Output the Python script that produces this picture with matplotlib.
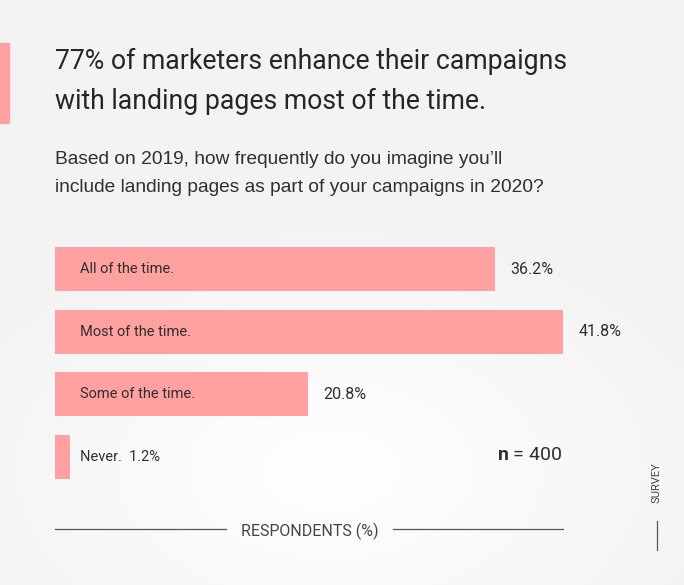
import numpy as np
import matplotlib.pyplot as plt

plt.rcParams['mathtext.fontset'] = 'custom'
plt.rcParams['mathtext.bf'] = 'Roboto:bold'
plt.rcParams['mathtext.rm'] = 'Roboto'

# survey answers, top to bottom
answers = ['All of the time.', 'Most of the time.', 'Some of the time.', 'Never.']
shares = [36.2, 41.8, 20.8, 1.2]
value_labels = ['36.2%', '41.8%', '20.8%', '1.2%']
n_resp = 400

W, H = 684, 585
BG = '#f4f4f4'
PINK = '#ffa1a1'
DARK = '#2f2f2f'

def fx(px):
    return px / W

def fy(py):
    return 1 - py / H

fig = plt.figure(figsize=(W / 100, H / 100), dpi=100, facecolor=BG)

# faint lighter glow in the background
bg = fig.add_axes([0, 0, 1, 1], zorder=-5)
yy, xx = np.mgrid[0:H, 0:W]
d = np.sqrt(((xx - 330) / 420.0) ** 2 + ((yy - 470) / 260.0) ** 2)
glow = np.clip(1 - d, 0, 1)
base = np.array([0.953, 0.953, 0.953])
img = base + (1 - base) * glow[..., None]
bg.imshow(img, extent=[0, W, H, 0], aspect='auto')
bg.axis('off')

# left accent stripe
fig.patches.append(plt.Rectangle((0, fy(123)), fx(9), fy(43) - fy(123),
                                 transform=fig.transFigure, color=PINK, zorder=2))

# headline
fig.text(fx(55), fy(61), '77% of marketers enhance their campaigns',
         fontsize=19.2, family='Roboto', color='#262626', va='center')
fig.text(fx(55), fy(101), 'with landing pages most of the time.',
         fontsize=19.2, family='Roboto', color='#262626', va='center')

# question
fig.text(fx(55), fy(160), 'Based on 2019, how frequently do you imagine you\u2019ll',
         fontsize=13.8, family='Liberation Sans', color=DARK, va='center')
fig.text(fx(55), fy(187), 'include landing pages as part of your campaigns in 2020?',
         fontsize=13.8, family='Liberation Sans', color=DARK, va='center')

# bars
ax = fig.add_axes([fx(55), fy(479), fx(563) - fx(55), fy(247) - fy(479)])
ax.set_facecolor('none')
pos = np.arange(len(answers))
ax.barh(pos, shares, height=0.71, color=PINK, edgecolor='none')
ax.set_xlim(0, max(shares))
ax.set_ylim(len(answers) - 1 + 0.355, -0.355)
ax.axis('off')

for i, (a, v, lab) in enumerate(zip(answers, shares, value_labels)):
    if v > 5:
        ax.text(2.05, i, a, fontsize=10.5, family='Roboto', color=DARK, va='center')
        ax.text(v + 1.25, i, lab, fontsize=11.5, family='Roboto', color=DARK, va='center')
    else:
        ax.text(2.05, i, a + '  ' + lab, fontsize=10.5, family='Roboto', color=DARK,
                va='center')

# sample size
fig.text(fx(562), fy(455), r'$\mathbf{n}$ = ' + str(n_resp), fontsize=14,
         family='Roboto', color=DARK, ha='right', va='center')

# axis caption with rules
fig.add_artist(plt.Line2D([fx(55), fx(226)], [fy(529), fy(529)], color='#555555', lw=0.9))
fig.add_artist(plt.Line2D([fx(393), fx(563)], [fy(529), fy(529)], color='#555555', lw=0.9))
fig.text(fx(310), fy(531), 'RESPONDENTS (%)', fontsize=11.5, family='Roboto',
         color='#444444', ha='center', va='center')

# survey tag
fig.text(fx(657), fy(483), 'SURVEY', fontsize=8, family='Roboto', color='#444444',
         rotation=90, ha='center', va='center')
fig.add_artist(plt.Line2D([fx(657), fx(657)], [fy(521), fy(550)], color='#555555', lw=0.9))

fig.savefig('out.png', dpi=100, facecolor=BG)
